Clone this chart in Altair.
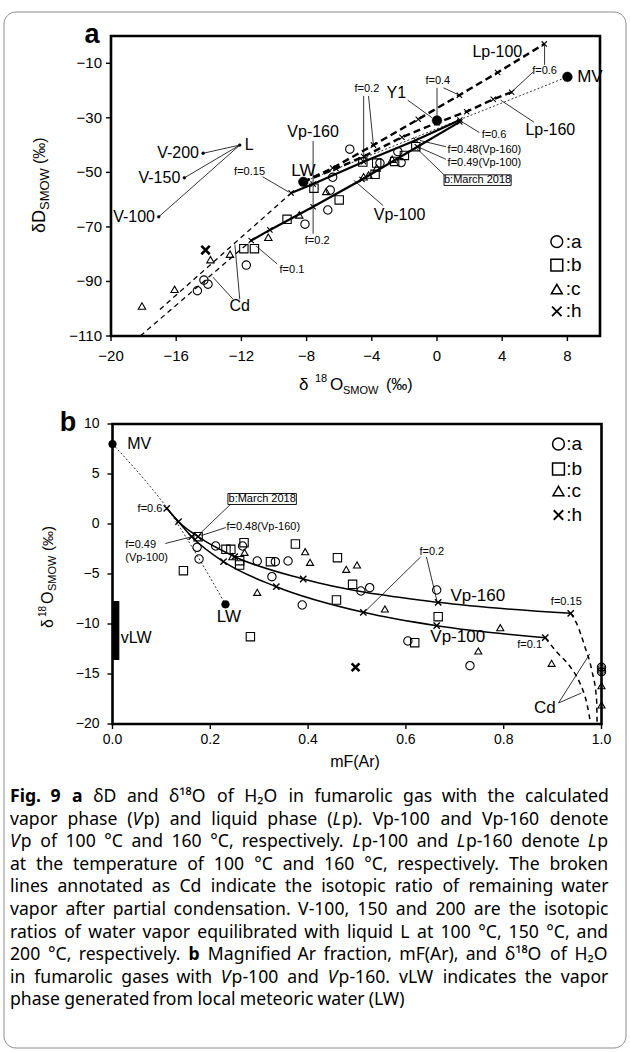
import altair as alt
import pandas as pd

W, H = 630, 1052
FONT = "Liberation Sans"
CAP_FONT = "Noto Sans"

# ---------------- panel a : dD vs d18O ----------------
A_XTICKS = [-20, -16, -12, -8, -4, 0, 4, 8]
A_YTICKS = [-110, -90, -70, -50, -30, -10]

a_circle_x = [-14.7, -14.3, -14.05, -11.7, -8.1, -6.7, -6.55, -6.4, -5.35, -3.5, -2.4, -2.2]
a_circle_y = [-93.4, -89.5, -91.0, -84.0, -69.0, -63.8, -56.5, -51.8, -41.5, -46.6, -42.4, -46.4]
a_square_x = [-11.85, -11.2, -9.2, -7.55, -6.0, -4.55, -3.7, -3.8, -2.6, -2.0, -1.3]
a_square_y = [-78.0, -78.0, -67.2, -55.8, -60.1, -46.2, -46.6, -50.7, -46.0, -43.8, -40.6]
a_tri_x = [-18.1, -16.1, -13.9, -12.7, -10.35, -8.45, -6.8, -4.5, -4.2, -2.75, -3.7]
a_tri_y = [-99.0, -92.9, -82.0, -80.0, -73.8, -65.6, -57.0, -51.6, -51.0, -45.2, -48.4]
a_h_x = [-14.2]
a_h_y = [-78.5]

a_lp100_x = [-8.2, -6.4, -3.9, -1.15, 1.37, 3.72, 6.58]
a_lp100_y = [-53.5, -48.4, -40.0, -30.5, -21.7, -13.4, -2.9]
a_lp160_x = [-8.2, -6.2, -4.5, -2.15, 0.0, 1.82, 3.45, 4.58]
a_lp160_y = [-53.5, -48.6, -44.2, -37.1, -31.8, -27.75, -23.2, -20.6]
a_vp160_x = [-8.95, -7.6, -4.5, -1.3, 1.4]
a_vp160_y = [-57.6, -54.3, -46.1, -38.2, -30.8]
a_vp100_x = [-11.4, -10.25, -7.6, -4.6, -1.2, 1.4]
a_vp100_y = [-75.0, -71.1, -62.6, -52.6, -40.6, -31.5]

a_cd_x1 = [-17.0, -18.2]
a_cd_y1 = [-100.3, -110.0]
a_cd_x2 = [-8.95, -11.4]
a_cd_y2 = [-57.6, -75.0]

a_L = (-12.1, -40.0)
a_v_x = [-14.35, -15.5, -17.07]
a_v_y = [-43.0, -52.0, -66.3]

a_dot_x = [-8.2, 8.0, 0.0]     # LW, MV, Y1
a_dot_y = [-53.5, -15.0, -31.0]

a_leaders = [
    (-10.7, -51.6, -9.1, -57.2),
    (-7.6, -38.5, -7.6, -72.5),
    (-9.8, -83.6, -11.1, -77.0),
    (-12.1, -96.6, -12.4, -76.5),
    (-12.5, -96.6, -13.75, -88.4),
    (-3.3, -62.2, -5.1, -52.9),
    (-4.5, -22.0, -4.5, -46.0),
    (-4.2, -22.0, -3.9, -40.0),
    (-1.8, -23.5, -0.3, -30.0),
    (0.0, -19.0, 0.0, -30.0),
    (0.4, -19.0, 1.37, -21.7),
    (6.6, -10.6, 6.6, -3.3),
    (5.9, -13.2, 4.6, -20.4),
    (5.95, -31.6, 3.9, -23.5),
    (2.6, -35.4, 1.4, -31.0),
    (0.55, -40.6, -1.05, -38.3),
    (0.55, -45.2, -1.15, -40.7),
    (0.45, -51.0, -1.25, -41.2),
]

a_labels_center = [
    ("Lp-100", 3.7, -6.0, 16), ("f=0.4", 0.05, -16.6, 11), ("f=0.6", 6.6, -12.9, 11),
    ("f=0.2", -4.3, -19.5, 11), ("Y1", -2.5, -21.0, 16), ("Lp-160", 6.95, -34.5, 16),
    ("f=0.6", 3.5, -36.3, 11), ("Vp-160", -7.6, -35.2, 16), ("LW", -8.2, -49.4, 17),
    ("f=0.15", -11.5, -49.8, 11), ("Vp-100", -2.3, -65.6, 16), ("f=0.2", -7.35, -75.0, 11),
    ("f=0.1", -8.9, -85.8, 11), ("Cd", -12.1, -99.0, 16),
]
a_labels_left = [
    ("MV", 8.6, -15.0, 17), ("L", -11.8, -40.0, 16),
    ("f=0.48(Vp-160)", 0.65, -41.8, 11), ("f=0.49(Vp-100)", 0.65, -46.4, 11),
]
a_labels_right = [("V-200", -14.6, -43.0, 16), ("V-150", -15.75, -52.0, 16), ("V-100", -17.3, -66.5, 16)]
a_box = (0.43, -50.9, 4.55, -54.8, "b:March 2018")
a_legend_y = [-75.4, -84.0, -92.8, -101.0]
a_legend_sym_x = 7.35
a_legend_txt_x = 7.9

# ---------------- panel b : d18O vs mF(Ar) ----------------
B_XTICKS = [0.0, 0.2, 0.4, 0.6, 0.8, 1.0]
B_YTICKS = [-20, -15, -10, -5, 0, 5, 10]

b_circle_x = [0.177, 0.173, 0.211, 0.266, 0.296, 0.333, 0.326, 0.359, 0.388, 0.508, 0.526, 0.604, 0.663, 0.731, 1.0, 1.0]
b_circle_y = [-3.5, -2.33, -2.2, -2.2, -3.7, -3.77, -5.27, -3.7, -8.1, -6.7, -6.37, -11.7, -6.6, -14.17, -14.33, -14.77]
b_square_x = [0.145, 0.175, 0.232, 0.242, 0.26, 0.26, 0.269, 0.323, 0.374, 0.46, 0.458, 0.491, 0.282, 0.618, 0.666]
b_square_y = [-4.67, -1.27, -2.53, -2.53, -3.67, -4.1, -1.87, -3.77, -2.0, -3.37, -7.6, -6.03, -11.27, -11.87, -9.27]
b_tri_x = [0.245, 0.27, 0.296, 0.394, 0.404, 0.478, 0.5, 0.557, 0.748, 0.793, 0.898, 1.0, 1.0]
b_tri_y = [-3.27, -2.83, -6.83, -2.77, -3.83, -4.53, -4.1, -8.5, -12.7, -10.37, -13.93, -16.17, -18.1]
b_h_x = [0.497]
b_h_y = [-14.33]
b_plus_x = [1.0, 1.0]
b_plus_y = [-14.33, -14.77]

b_vp160_x = [0.111, 0.135, 0.175, 0.25, 0.39, 0.666, 0.937]
b_vp160_y = [1.57, 0.23, -1.27, -3.27, -5.5, -7.83, -8.93]
b_vp100_x = [0.111, 0.135, 0.162, 0.227, 0.335, 0.513, 0.663, 0.885]
b_vp100_y = [1.57, 0.23, -1.27, -3.77, -6.27, -8.83, -10.17, -11.37]
b_cd160_x = [0.937, 0.949, 0.966, 0.98, 0.99, 0.991]
b_cd160_y = [-8.93, -9.93, -12.27, -14.6, -17.6, -20.0]
b_cd100_x = [0.885, 0.908, 0.936, 0.956, 0.97, 0.978]
b_cd100_y = [-11.37, -12.77, -14.27, -15.93, -17.93, -20.0]
b_mix_x = [0.0, 0.066, 0.11, 0.17, 0.231]
b_mix_y = [8.0, 4.4, 1.7, -2.9, -8.03]
b_dot_x = [0.0, 0.231]    # MV, LW
b_dot_y = [8.0, -8.03]
b_vlw = (0.0, -7.7, 0.014, -13.6)

b_leaders = [
    (0.242, 2.0, 0.178, -1.0),
    (0.232, -0.35, 0.182, -1.15),
    (0.108, -1.95, 0.16, -1.3),
    (0.63, -3.3, 0.516, -8.77),
    (0.642, -3.3, 0.663, -7.6),
    (0.912, -17.9, 0.976, -13.0),
    (0.912, -17.9, 0.959, -16.9),
]
b_labels_center = [
    ("LW", 0.238, -9.3, 17), ("f=0.2", 0.653, -2.77, 11), ("Vp-160", 0.747, -7.2, 17),
    ("Vp-100", 0.706, -11.27, 17), ("f=0.15", 0.928, -7.83, 11), ("f=0.1", 0.853, -12.1, 11),
    ("Cd", 0.884, -18.4, 17),
]
b_labels_left = [
    ("MV", 0.03, 8.0, 16), ("f=0.48(Vp-160)", 0.233, -0.25, 11), ("f=0.49", 0.026, -2.1, 11),
    ("(Vp-100)", 0.026, -3.35, 11), ("vLW", 0.017, -11.4, 16),
]
b_labels_right = [("f=0.6", 0.102, 1.55, 11)]
b_box = (0.236, 3.05, 0.376, 1.95, "b:March 2018")
b_legend_y = [8.0, 5.5, 3.3, 0.9]
b_legend_sym_x = 0.912
b_legend_txt_x = 0.928

LEGEND_TEXT = [":a", ":b", ":c", ":h"]
XSHAPE = "M-1,-1L1,1M-1,1L1,-1"
TICK_DOWN = "M0,0L0,1"
TICK_LEFT = "M0,0L-1,0"

# ---------------- caption (justified; #bold#, *italic*) ----------------
CAP_LEFT, CAP_RIGHT = 10, 608
CAP_Y0 = 797
CAP_DY = 22.6
CAP_SIZE = 17.6
caption = [
    "#Fig. 9# #a# δD and δ¹⁸O of H₂O in fumarolic gas with the calculated",
    "vapor phase (*V*p) and liquid phase (*L*p). Vp-100 and Vp-160 denote",
    "*V*p of 100 °C and 160 °C, respectively. *L*p-100 and *L*p-160 denote *L*p",
    "at the temperature of 100 °C and 160 °C, respectively. The broken",
    "lines annotated as Cd indicate the isotopic ratio of remaining water",
    "vapor after partial condensation. V-100, 150 and 200 are the isotopic",
    "ratios of water vapor equilibrated with liquid L at 100 °C, 150 °C, and",
    "200 °C, respectively. #b# Magnified Ar fraction, mF(Ar), and δ¹⁸O of H₂O",
    "in fumarolic gases with *V*p-100 and *V*p-160. vLW indicates the vapor",
    "phase generated from local meteoric water (LW)",
]

CW = {
    "a": .556, "b": .613, "c": .476, "d": .613, "e": .561, "f": .339, "g": .548, "h": .614, "i": .253,
    "j": .253, "k": .525, "l": .253, "m": .93, "n": .614, "o": .604, "p": .613, "q": .613, "r": .408,
    "s": .477, "t": .353, "u": .614, "v": .501, "w": .778, "x": .524, "y": .502, "z": .477,
    "A": .633, "B": .648, "C": .631, "D": .729, "E": .556, "F": .516, "G": .728, "H": .738, "I": .279,
    "L": .524, "M": .903, "O": .781, "T": .551, "V": .617, "W": .944, "P": .604, "S": .547, "R": .625,
    ".": .266, ",": .245, "(": .297, ")": .297, "-": .322, "°": .418, ":": .266, "δ": .58,
    "¹": .38, "⁸": .38, "₂": .38, " ": .26,
}


def text_w(s, size, style="r"):
    w = sum(CW.get(ch, .572 if ch.isdigit() else .58) for ch in s) * size
    return w * (1.07 if style == "b" else 1.0)


def parse_line(ln):
    """Split a marked-up line into words, each a list of (text, style) runs."""
    words, runs, cur, st = [], [], "", "r"
    for ch in ln + " ":
        if ch in "#*":
            if cur:
                runs.append((cur, st))
            cur = ""
            new = "b" if ch == "#" else "i"
            st = "r" if st == new else new
        elif ch == " ":
            if cur:
                runs.append((cur, st))
            cur = ""
            if runs:
                words.append(runs)
            runs = []
        else:
            cur += ch
    return words


cap_rows = {"r": [], "b": [], "i": []}
for li, ln in enumerate(caption):
    words = parse_line(ln)
    widths = [sum(text_w(t, CAP_SIZE, s) for t, s in wd) for wd in words]
    if li == len(caption) - 1:
        gap = text_w(" ", CAP_SIZE)
    else:
        gap = (CAP_RIGHT - CAP_LEFT - sum(widths)) / (len(words) - 1)
    x = CAP_LEFT
    for wd, w in zip(words, widths):
        xx = x
        for t, s in wd:
            cap_rows[s].append((xx, CAP_Y0 + li * CAP_DY, t))
            xx += text_w(t, CAP_SIZE, s)
        x += w + gap

# ---------------- helpers ----------------
XA = alt.Scale(domain=[-20, 10], range=[111, 600], nice=False, zero=False)
YA = alt.Scale(domain=[-110, 0], range=[336, 36], nice=False, zero=False)
XB = alt.Scale(domain=[0, 1], range=[112.5, 601.5], nice=False, zero=False)
YB = alt.Scale(domain=[-20, 10], range=[724, 424], nice=False, zero=False)


def enc(xsc, ysc):
    return dict(x=alt.X("x:Q", scale=xsc, axis=None), y=alt.Y("y:Q", scale=ysc, axis=None))


def points(xs, ys, xsc, ysc, shape, size, sw=1.1, filled=False):
    df = pd.DataFrame({"x": xs, "y": ys})
    if filled:
        m = alt.Chart(df).mark_point(shape=shape, size=size, filled=True, fill="black",
                                     stroke="black", strokeWidth=0.5, opacity=1)
    else:
        m = alt.Chart(df).mark_point(shape=shape, size=size, filled=False, stroke="black",
                                     strokeWidth=sw, opacity=1)
    return m.encode(**enc(xsc, ysc))


def rules(rows, xsc, ysc, sw=0.8, dash=None):
    df = pd.DataFrame(rows, columns=["x", "y", "x2", "y2"])
    kw = dict(color="black", strokeWidth=sw)
    if dash:
        kw["strokeDash"] = dash
    return alt.Chart(df).mark_rule(**kw).encode(**enc(xsc, ysc), x2="x2:Q", y2="y2:Q")


def line(xs, ys, xsc, ysc, sw, dash=None, interp="linear"):
    df = pd.DataFrame({"x": xs, "y": ys, "o": list(range(len(xs)))})
    kw = dict(color="black", strokeWidth=sw, interpolate=interp)
    if dash:
        kw["strokeDash"] = dash
    return alt.Chart(df).mark_line(**kw).encode(**enc(xsc, ysc), order="o:Q")


def texts(rows, xsc, ysc, align, dx=0, dy=0, font=FONT):
    df = pd.DataFrame(rows, columns=["t", "x", "y", "s"])
    return alt.Chart(df).mark_text(align=align, baseline="middle", font=font, color="black",
                                   dx=dx, dy=dy).encode(
        **enc(xsc, ysc), text="t:N", size=alt.Size("s:Q", scale=None, legend=None))


def box(b, xsc, ysc, sw=0.9, fill="white"):
    x1, y1, x2, y2 = b[:4]
    df = pd.DataFrame({"x": [x1], "y": [y1], "x2": [x2], "y2": [y2]})
    return alt.Chart(df).mark_rect(fill=fill, fillOpacity=1 if fill == "white" else 0,
                                   stroke="black", strokeWidth=sw).encode(
        **enc(xsc, ysc), x2="x2:Q", y2="y2:Q")


def pix_text(rows, size, weight="normal", font=FONT, align="left", angle=0, baseline="middle",
             style="normal"):
    df = pd.DataFrame(rows, columns=["px", "py", "t"])
    return alt.Chart(df).mark_text(align=align, baseline=baseline, fontSize=size, fontWeight=weight,
                                   fontStyle=style, font=font, angle=angle, color="black").encode(
        x=alt.X("px:Q", scale=None, axis=None), y=alt.Y("py:Q", scale=None, axis=None), text="t:N")


def fmt_int(v):
    return str(v).replace("-", "\u2212")


def axes_marks(xt, yt, xmin, ymin, xsc, ysc, xlab, ylab, size, xdy, ydx):
    return [
        points(xt, [ymin] * len(xt), xsc, ysc, TICK_DOWN, 100, 1.4),
        points([xmin] * len(yt), yt, xsc, ysc, TICK_LEFT, 100, 1.4),
        texts([(l, v, ymin, size) for l, v in zip(xlab, xt)], xsc, ysc, "center", dy=xdy),
        texts([(l, xmin, v, size) for l, v in zip(ylab, yt)], xsc, ysc, "right", dx=ydx),
    ]


# ---------------- panel a layers ----------------
a_lv = [(a_L[0], a_L[1], vx, vy) for vx, vy in zip(a_v_x, a_v_y)]
a_cd = list(zip(a_cd_x1, a_cd_y1, a_cd_x2, a_cd_y2))
a_mix = [(a_dot_x[0], a_dot_y[0], a_dot_x[1], a_dot_y[1])]

layer_a = alt.layer(
    *axes_marks(A_XTICKS, A_YTICKS, -20, -110, XA, YA,
                [fmt_int(v) for v in A_XTICKS], [fmt_int(v) for v in A_YTICKS], 15, 20, -9),
    rules(a_leaders, XA, YA, 0.8),
    rules(a_lv, XA, YA, 0.8),
    rules(a_mix, XA, YA, 0.8, [2, 2]),
    rules(a_cd, XA, YA, 1.3, [5, 4]),
    line(a_lp100_x, a_lp100_y, XA, YA, 2.4, [7, 4]),
    line(a_lp160_x, a_lp160_y, XA, YA, 2.4, [7, 4]),
    line(a_vp160_x, a_vp160_y, XA, YA, 2.2),
    line(a_vp100_x, a_vp100_y, XA, YA, 2.2),
    points(a_lp100_x[1:], a_lp100_y[1:], XA, YA, XSHAPE, 28, 1.1),
    points(a_lp160_x[1:], a_lp160_y[1:], XA, YA, XSHAPE, 28, 1.1),
    points(a_vp160_x, a_vp160_y, XA, YA, XSHAPE, 28, 1.1),
    points(a_vp100_x, a_vp100_y, XA, YA, XSHAPE, 28, 1.1),
    points(a_circle_x, a_circle_y, XA, YA, "circle", 70),
    points(a_square_x, a_square_y, XA, YA, "square", 70),
    points(a_tri_x, a_tri_y, XA, YA, "triangle-up", 55),
    points(a_h_x, a_h_y, XA, YA, XSHAPE, 70, 2.6),
    points(a_dot_x, a_dot_y, XA, YA, "circle", 95, filled=True),
    points([a_L[0]] + a_v_x, [a_L[1]] + a_v_y, XA, YA, "circle", 8, filled=True),
    box(a_box, XA, YA),
    texts([(a_box[4], (a_box[0] + a_box[2]) / 2, (a_box[1] + a_box[3]) / 2, 11)], XA, YA, "center"),
    texts(a_labels_center, XA, YA, "center"),
    texts(a_labels_left, XA, YA, "left"),
    texts(a_labels_right, XA, YA, "right"),
    points([a_legend_sym_x], [a_legend_y[0]], XA, YA, "circle", 140, 1.5),
    points([a_legend_sym_x], [a_legend_y[1]], XA, YA, "square", 140, 1.5),
    points([a_legend_sym_x], [a_legend_y[2]], XA, YA, "triangle-up", 120, 1.5),
    points([a_legend_sym_x], [a_legend_y[3]], XA, YA, XSHAPE, 90, 1.8),
    texts([(t, a_legend_txt_x, y, 19) for t, y in zip(LEGEND_TEXT, a_legend_y)], XA, YA, "left"),
    box((-20, -110, 10, 0), XA, YA, 2.6, fill="none"),
)

# ---------------- panel b layers ----------------
vlw_df = pd.DataFrame({"x": [b_vlw[0]], "y": [b_vlw[1]], "x2": [b_vlw[2]], "y2": [b_vlw[3]]})
vlw_bar = alt.Chart(vlw_df).mark_rect(color="black").encode(**enc(XB, YB), x2="x2:Q", y2="y2:Q")

layer_b = alt.layer(
    *axes_marks(B_XTICKS, B_YTICKS, 0.0, -20, XB, YB,
                [f"{v:.1f}" for v in B_XTICKS], [fmt_int(v) for v in B_YTICKS], 14, 16, -13),
    rules(b_leaders, XB, YB, 0.8),
    line(b_mix_x, b_mix_y, XB, YB, 0.8, [2, 2], "monotone"),
    line(b_vp160_x, b_vp160_y, XB, YB, 1.5, None, "monotone"),
    line(b_vp100_x, b_vp100_y, XB, YB, 1.5, None, "monotone"),
    line(b_cd160_x, b_cd160_y, XB, YB, 1.5, [5, 4], "monotone"),
    line(b_cd100_x, b_cd100_y, XB, YB, 1.5, [5, 4], "monotone"),
    points(b_vp160_x, b_vp160_y, XB, YB, XSHAPE, 40, 1.4),
    points(b_vp100_x[2:], b_vp100_y[2:], XB, YB, XSHAPE, 40, 1.4),
    points(b_circle_x, b_circle_y, XB, YB, "circle", 70),
    points(b_square_x, b_square_y, XB, YB, "square", 70),
    points(b_tri_x, b_tri_y, XB, YB, "triangle-up", 50),
    points(b_plus_x, b_plus_y, XB, YB, "cross", 40, 0.8),
    points(b_h_x, b_h_y, XB, YB, XSHAPE, 60, 2.6),
    points(b_dot_x, b_dot_y, XB, YB, "circle", 60, filled=True),
    box(b_box, XB, YB),
    texts([(b_box[4], (b_box[0] + b_box[2]) / 2, (b_box[1] + b_box[3]) / 2, 11)], XB, YB, "center"),
    texts(b_labels_center, XB, YB, "center"),
    texts(b_labels_left, XB, YB, "left"),
    texts(b_labels_right, XB, YB, "right"),
    points([b_legend_sym_x], [b_legend_y[0]], XB, YB, "circle", 140, 1.5),
    points([b_legend_sym_x], [b_legend_y[1]], XB, YB, "square", 140, 1.5),
    points([b_legend_sym_x], [b_legend_y[2]], XB, YB, "triangle-up", 120, 1.5),
    points([b_legend_sym_x], [b_legend_y[3]], XB, YB, XSHAPE, 90, 1.8),
    texts([(t, b_legend_txt_x, y, 19) for t, y in zip(LEGEND_TEXT, b_legend_y)], XB, YB, "left"),
    box((0.0, -20, 1.0, 10), XB, YB, 2.6, fill="none"),
    vlw_bar,
)

# ---------------- page-level text (titles, panel letters, caption, border) ----------------
border = alt.Chart(alt.Data(values=[{}])).mark_rect(
    fill="white", fillOpacity=0, stroke="#8c8c8c", strokeWidth=1, cornerRadius=12).encode(
    x=alt.value(4), x2=alt.value(626), y=alt.value(12), y2=alt.value(1048))

layer_pix = alt.layer(
    border,
    pix_text([(92, 35, "a"), (68, 423, "b")], 27, "bold", align="center"),
    pix_text([(299, 385, "δ"), (330, 385, "O")], 17),
    pix_text([(315, 379, "18")], 11),
    pix_text([(343, 391, "SMOW")], 11),
    pix_text([(386, 385, "(‰)")], 16),
    pix_text([(40, 233, "δD")], 18, angle=270),
    pix_text([(45, 210, "SMOW")], 13, angle=270),
    pix_text([(40, 164, "(‰)")], 16, angle=270),
    pix_text([(48, 628, "δ"), (48, 604, "O")], 16, angle=270),
    pix_text([(43, 617, "18")], 10, angle=270),
    pix_text([(53, 591, "SMOW")], 11, angle=270),
    pix_text([(48, 551, "(‰)")], 15, angle=270),
    pix_text([(355, 762, "mF(Ar)")], 16, align="center"),
    pix_text(cap_rows["r"], CAP_SIZE, font=CAP_FONT),
    pix_text(cap_rows["b"], CAP_SIZE, weight="bold", font=CAP_FONT),
    pix_text(cap_rows["i"], CAP_SIZE, font=CAP_FONT, style="italic"),
)

chart = alt.layer(layer_a, layer_b, layer_pix).resolve_scale(
    x="independent", y="independent"
).properties(
    width=W, height=H, padding=0, background="white",
    autosize=alt.AutoSizeParams(type="none"),
).configure_view(stroke=None)

chart.save("out.html", embed_options={"renderer": "svg", "actions": False})
